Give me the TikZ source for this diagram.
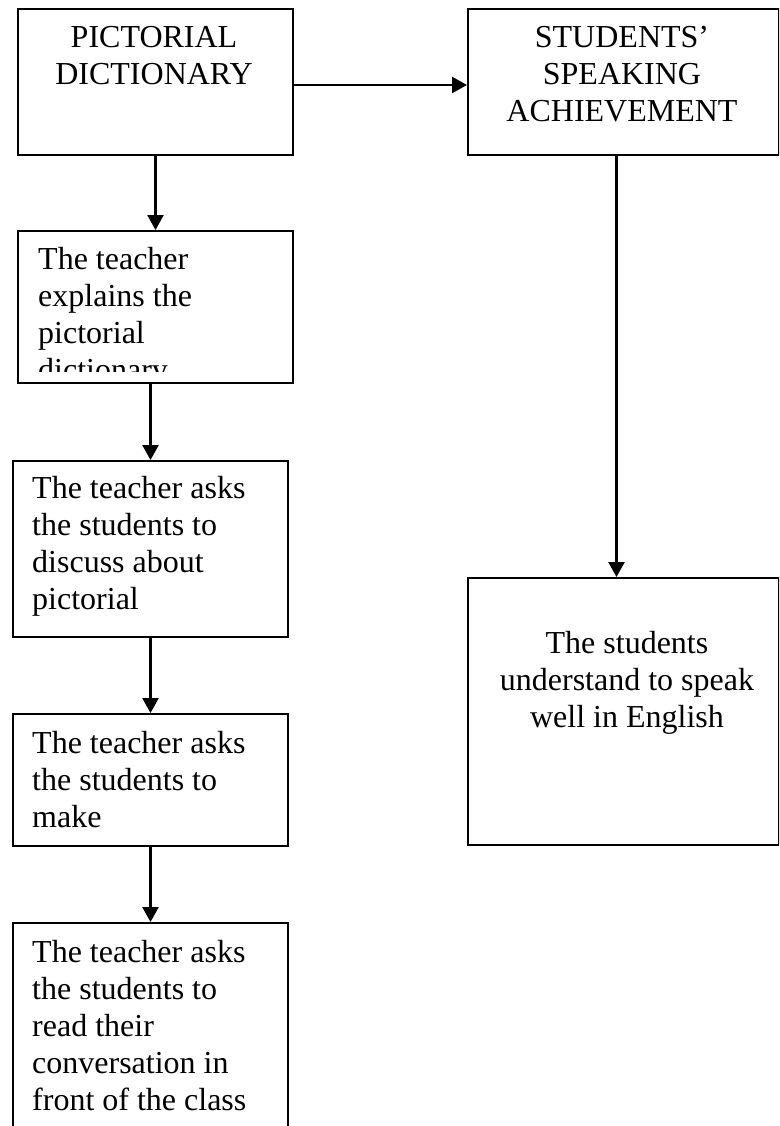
\documentclass[tikz,border=0pt]{standalone}
\usepackage{fontspec}
\setmainfont{Liberation Serif}
\usetikzlibrary{arrows.meta}
\begin{document}
\begin{tikzpicture}[x=1pt,y=-1pt,
  box/.style={draw=black, line width=2pt, anchor=north west, inner sep=0pt},
  txt/.style={inner sep=0pt, font=\fontsize{32}{37}\selectfont},
  conn/.style={line width=2.5pt, -{Triangle[width=16pt,length=15pt]}},
  plain/.style={line width=2.5pt}]
\clip (0,0) rectangle (779,1126);
\useasboundingbox (0,0) rectangle (779,1126);
% boxes
\node[box, minimum width=275pt, minimum height=146pt] (b1) at (17,8) {};
\node[box, minimum width=275pt, minimum height=152pt] (b2) at (17,230) {};
\node[box, minimum width=275pt, minimum height=176pt] (b3) at (12,460) {};
\node[box, minimum width=275pt, minimum height=132pt] (b4) at (12,713) {};
\node[box, minimum width=275pt, minimum height=240pt] (b5) at (12,922) {};
\node[box, minimum width=311pt, minimum height=146pt] (b6) at (467,8) {};
\node[box, minimum width=311pt, minimum height=267pt] (b7) at (467,577) {};
% texts
\node[txt, anchor=base] (t1) at (154,48) {\begin{tabular}[t]{@{}c@{}}PICTORIAL\\DICTIONARY\end{tabular}};
\node[txt, anchor=base] (t6) at (622,48) {\begin{tabular}[t]{@{}c@{}}STUDENTS’\\SPEAKING\\ACHIEVEMENT\end{tabular}};
\begin{scope}
\clip (17,230) rectangle (292,371);
\node[txt, anchor=base west] (t2) at (38,269) {\begin{tabular}[t]{@{}l@{}}The teacher\\explains the\\pictorial\\dictionary\end{tabular}};
\end{scope}
\node[txt, anchor=base west] (t3) at (32,498) {\begin{tabular}[t]{@{}l@{}}The teacher asks\\the students to\\discuss about\\pictorial\end{tabular}};
\node[txt, anchor=base west] (t4) at (32,753) {\begin{tabular}[t]{@{}l@{}}The teacher asks\\the students to\\make\end{tabular}};
\node[txt, anchor=base west] (t5) at (32,962) {\begin{tabular}[t]{@{}l@{}}The teacher asks\\the students to\\read their\\conversation in\\front of the class\end{tabular}};
\node[txt, anchor=base] (t7) at (627,653) {\begin{tabular}[t]{@{}c@{}}The students\\understand to speak\\well in English\end{tabular}};
% connectors
\draw[conn] (b1.south) -- (b2.north);
\draw[conn] (b3.north |- b2.south) -- (b3.north);
\draw[conn] (b3.south) -- (b4.north);
\draw[conn] (b4.south) -- (b5.north);
\draw[conn] ([yshift=-3pt]b1.east) -- ([yshift=-3pt]b6.west);
\draw[conn] ([xshift=-7pt]b6.south) -- ([xshift=-7pt]b7.north);
\end{tikzpicture}
\end{document}
